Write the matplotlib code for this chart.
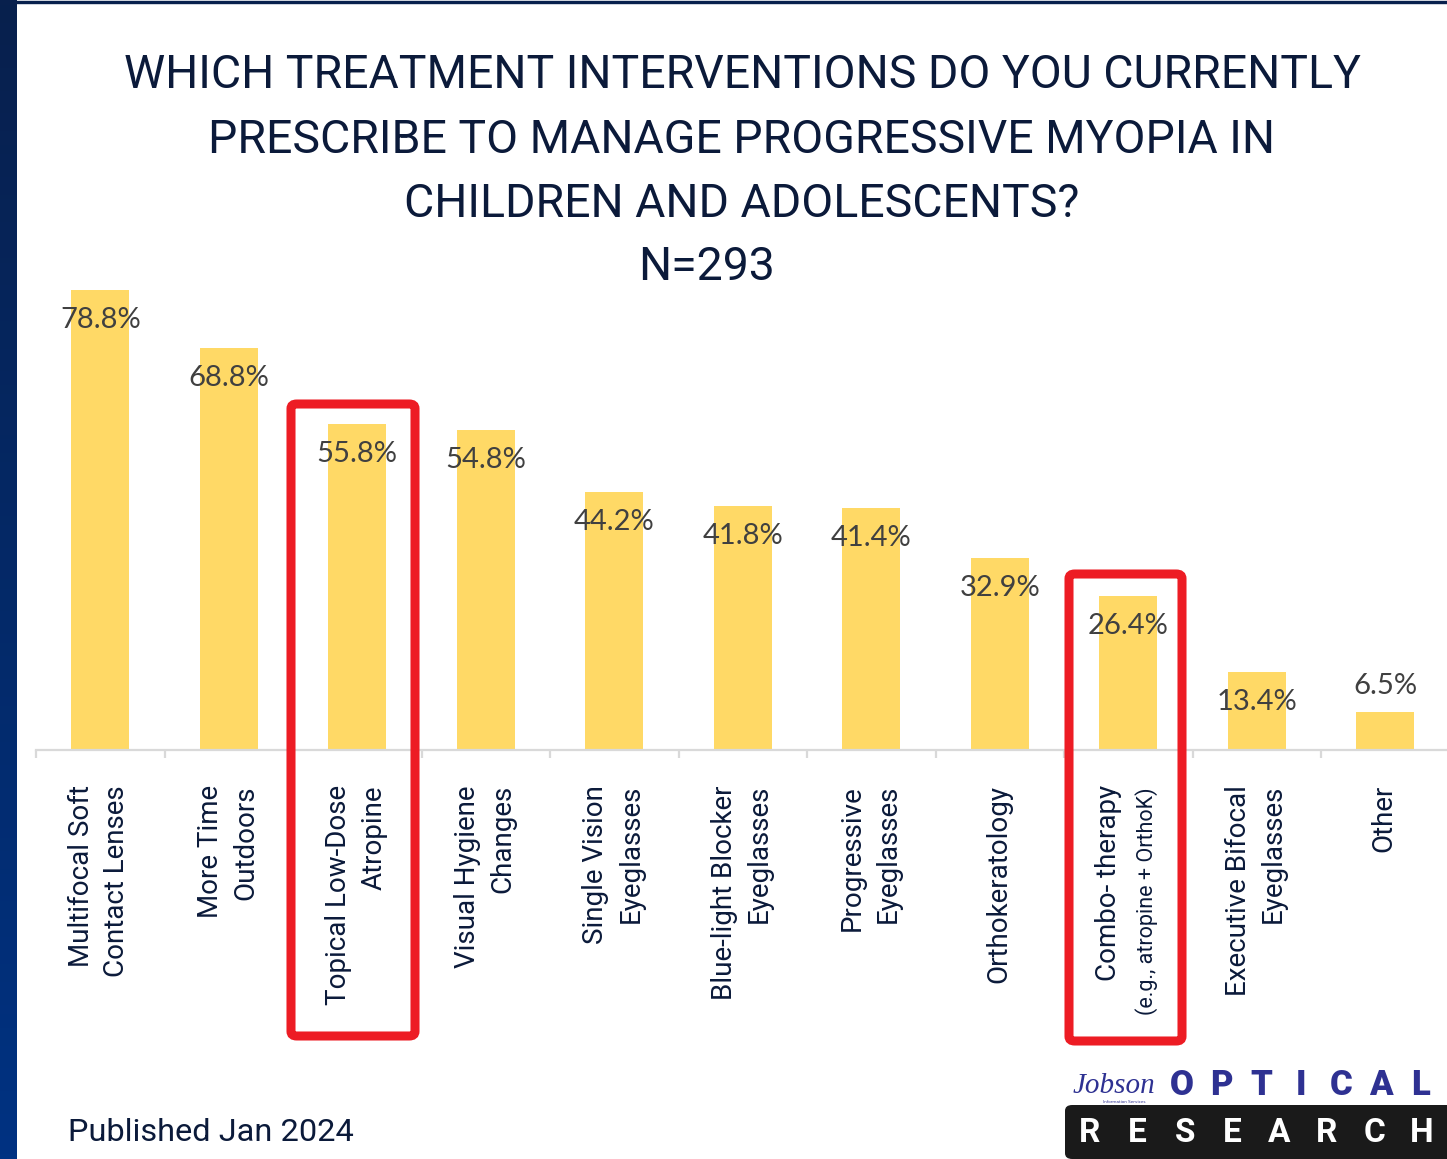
import matplotlib
matplotlib.use("Agg")
import matplotlib.pyplot as plt
import numpy as np
from matplotlib.patches import FancyBboxPatch, Rectangle

# survey results, % of respondents (N=293)
categories = [
    "Multifocal Soft\nContact Lenses",
    "More Time\nOutdoors",
    "Topical Low-Dose\nAtropine",
    "Visual Hygiene\nChanges",
    "Single Vision\nEyeglasses",
    "Blue-light Blocker\nEyeglasses",
    "Progressive\nEyeglasses",
    "Orthokeratology",
    "Combo- therapy",
    "Executive Bifocal\nEyeglasses",
    "Other",
]
combo_note = "(e.g., atropine + OrthoK)"
values = [78.8, 68.8, 55.8, 54.8, 44.2, 41.8, 41.4, 32.9, 26.4, 13.4, 6.5]

title_lines = [
    "WHICH TREATMENT INTERVENTIONS DO YOU CURRENTLY",
    "PRESCRIBE TO MANAGE PROGRESSIVE MYOPIA IN",
    "CHILDREN AND ADOLESCENTS?",
]
n_label = "N=293"
footer = "Published Jan 2024"

W, H = 1447, 1159
NAVY = "#0b1a3a"
BAR = "#ffd966"
RED = "#ed1c24"
GRID = "#d9d9d9"


def fx(px):
    return px / W


def fy(py):
    return 1 - py / H


fig = plt.figure(figsize=(W / 100, H / 100), dpi=100)
fig.patch.set_facecolor("white")

# dark blue frame: gradient strip on the left, thin band on top
band = fig.add_axes([0, 0, fx(17), 1])
grad = np.linspace(0, 1, 256).reshape(-1, 1)
cmap = matplotlib.colors.LinearSegmentedColormap.from_list("b", ["#08204d", "#003282"])
band.imshow(grad, aspect="auto", cmap=cmap, extent=[0, 1, 0, 1], origin="upper")
band.axis("off")
fig.patches.append(Rectangle((0, fy(3)), 1, fx(3), transform=fig.transFigure,
                             color="#08204d", zorder=0))

# bar chart
ax = fig.add_axes([fx(36), fy(750), fx(1413.5), 479 / H])
x = np.arange(len(values))
ax.bar(x, values, width=0.45, color=BAR, zorder=2)
ax.set_xlim(-0.5, len(values) - 0.5)
ax.set_ylim(0, 82)
ax.set_yticks([])
for s in ["top", "right", "left"]:
    ax.spines[s].set_visible(False)
ax.spines["bottom"].set_color(GRID)
ax.spines["bottom"].set_linewidth(1.6)
ax.set_xticks(np.arange(-0.5, len(values), 1.0))
ax.set_xticklabels([])
ax.tick_params(axis="x", length=6, width=1.6, color=GRID)
ax.patch.set_alpha(0)

for i, v in enumerate(values):
    off = -30 if v > 10 else 26
    ax.annotate(f"{v}%", xy=(i, v), xytext=(0, off), textcoords="offset pixels",
                ha="center", va="center", fontsize=21, color="#404040",
                family="Lato", zorder=3)

for i, lab in enumerate(categories):
    if lab.startswith("Combo"):
        ax.annotate(lab, xy=(i, 0), xytext=(-20, -35), textcoords="offset pixels",
                    rotation=90, ha="center", va="top", fontsize=20, color=NAVY,
                    family="Roboto", annotation_clip=False)
        ax.annotate(combo_note, xy=(i, 0), xytext=(18, -37), textcoords="offset pixels",
                    rotation=90, ha="center", va="top", fontsize=15.5, color=NAVY,
                    family="Roboto", annotation_clip=False)
        continue
    ax.annotate(lab, xy=(i, 0), xytext=(-1, -35), textcoords="offset pixels",
                rotation=90, ha="center", va="top", multialignment="right",
                linespacing=1.4, fontsize=20, color=NAVY, family="Roboto",
                annotation_clip=False)

# highlight boxes
for x0, y0, x1, y1 in [(291, 404, 415, 1036), (1069, 574, 1182, 1041)]:
    fig.patches.append(FancyBboxPatch(
        (fx(x0), fy(y1)), fx(x1 - x0), (y1 - y0) / H,
        boxstyle="round,pad=0,rounding_size=0.004", transform=fig.transFigure,
        fill=False, edgecolor=RED, linewidth=6.5, zorder=5))

# title
for txt, base in zip(title_lines, [88, 153, 217]):
    fig.text(fx(742), fy(base), txt, ha="center", va="baseline",
             fontsize=33.4, color=NAVY, family="Roboto")
fig.text(fx(706), fy(280), n_label, ha="center", va="baseline",
         fontsize=33.4, color=NAVY, family="Roboto")

fig.text(fx(68), fy(1141), footer, ha="left", va="baseline",
         fontsize=23.4, color=NAVY, family="Roboto")

# publisher mark
fig.text(fx(1073), fy(1093), "Jobson", ha="left", va="baseline", fontsize=21,
         style="italic", color="#2e3192", family="Liberation Serif")
fig.text(fx(1124), fy(1103), "Information Services", ha="center", va="baseline",
         fontsize=3, color="#2e3192")
for k, ch in enumerate("OPTICAL"):
    fig.text(fx(1182 + k * 39.7), fy(1095), ch, ha="center", va="baseline",
             fontsize=25, weight="black", color="#2e3192", family="Roboto")
fig.patches.append(FancyBboxPatch(
    (fx(1065), 0), fx(400), (1159 - 1105) / H,
    boxstyle="round,pad=0,rounding_size=0.005", transform=fig.transFigure,
    facecolor="#1a1a1a", edgecolor="none", zorder=4))
for k, ch in enumerate("RESEARCH"):
    fig.text(fx(1090 + k * 47.4), fy(1142), ch, ha="center", va="baseline",
             fontsize=24, weight="bold", color="white", family="Roboto", zorder=6)

fig.savefig("out.png", dpi=100, facecolor="white")
